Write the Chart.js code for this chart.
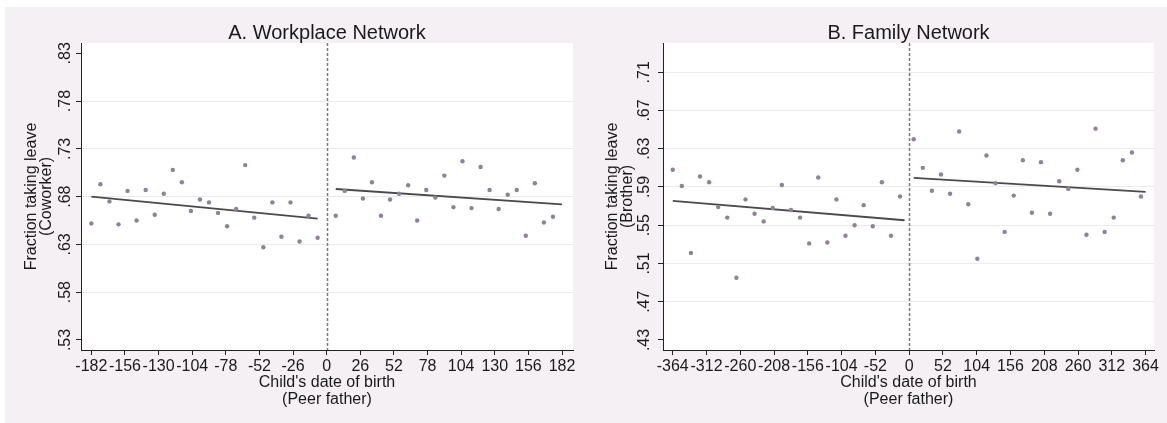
<!DOCTYPE html>
<html>
<head>
<meta charset="utf-8">
<script src="https://cdn.jsdelivr.net/npm/chart.js@4.4.0/dist/chart.umd.min.js"></script>
<style>
  html, body { margin: 0; padding: 0; background: #fff; }
  #frame { position: absolute; left: 5px; top: 7px; width: 1162px; height: 416px; background: #f4f0f4; overflow: hidden; }
  canvas { position: absolute; top: 0; }
  #chartA { left: 0; }
  #chartB { left: 585px; }
</style>
</head>
<body>
<div id="frame">
  <canvas id="chartA" width="585" height="416"></canvas>
  <canvas id="chartB" width="577" height="416"></canvas>
</div>
<script>
// Workplace network: binned means by day of birth relative to the cutoff
const xA_before = [-182, -175, -168, -161, -154, -147, -140, -133, -126, -119, -112, -105, -98, -91, -84, -77, -70, -63, -56, -49, -42, -35, -28, -21, -14, -7]
const yA_before = [0.652, 0.693, 0.675, 0.651, 0.686, 0.655, 0.687, 0.661, 0.683, 0.708, 0.695, 0.665, 0.677, 0.674, 0.663, 0.649, 0.667, 0.713, 0.658, 0.627, 0.674, 0.638, 0.674, 0.633, 0.660, 0.637]
const xA_after = [7, 14, 21, 28, 35, 42, 49, 56, 63, 70, 77, 84, 91, 98, 105, 112, 119, 126, 133, 140, 147, 154, 161, 168, 175]
const yA_after = [0.660, 0.686, 0.721, 0.678, 0.695, 0.660, 0.677, 0.683, 0.692, 0.655, 0.687, 0.679, 0.702, 0.669, 0.717, 0.668, 0.711, 0.687, 0.667, 0.682, 0.687, 0.639, 0.694, 0.653, 0.659]
const fitA_x = [[-182, -7], [7, 182]]
const fitA_y = [[0.680, 0.657], [0.688, 0.672]]

// Family network
const xB_before = [-364, -350, -336, -322, -308, -294, -280, -266, -252, -238, -224, -210, -196, -182, -168, -154, -140, -126, -112, -98, -84, -70, -56, -42, -28, -14]
const yB_before = [0.608, 0.591, 0.521, 0.601, 0.595, 0.569, 0.558, 0.495, 0.577, 0.562, 0.554, 0.568, 0.592, 0.566, 0.558, 0.531, 0.600, 0.532, 0.577, 0.539, 0.550, 0.571, 0.549, 0.595, 0.539, 0.580]
const xB_after = [7, 21, 35, 49, 63, 77, 91, 105, 119, 133, 147, 161, 175, 189, 203, 217, 231, 245, 259, 273, 287, 301, 315, 329, 343, 357]
const yB_after = [0.640, 0.610, 0.586, 0.603, 0.583, 0.648, 0.572, 0.515, 0.623, 0.594, 0.543, 0.581, 0.618, 0.563, 0.616, 0.562, 0.596, 0.588, 0.608, 0.540, 0.651, 0.543, 0.558, 0.618, 0.626, 0.580]
const fitB_x = [[-364, -7], [7, 364]]
const fitB_y = [[0.5755, 0.5552], [0.5996, 0.5849]]

// Axis ticks
const xTicksA = [-182, -156, -130, -104, -78, -52, -26, 0, 26, 52, 78, 104, 130, 156, 182]
const yTicksA = [0.53, 0.58, 0.63, 0.68, 0.73, 0.78, 0.83]
const xTicksB = [-364, -312, -260, -208, -156, -104, -52, 0, 52, 104, 156, 208, 260, 312, 364]
const yTicksB = [0.43, 0.47, 0.51, 0.55, 0.59, 0.63, 0.67, 0.71]

const FONT = '"Liberation Sans", Arial, Helvetica, sans-serif'
const TEXT = '#1a1a1a'
const DOT = '#917f9b'
const FIT = '#4a4a4a'

function zip (xs, ys) {
  return xs.map((x, i) => ({ x: x, y: ys[i] }))
}

function fmtY (v) {
  return v.toFixed(2).replace(/^0/, '')
}

// Draws plot background, zero line and all the text around the axes
const panelDecor = {
  id: 'panelDecor',
  beforeDraw (chart, args, opts) {
    const { ctx, chartArea: a } = chart
    ctx.save()
    ctx.fillStyle = '#fff'
    ctx.fillRect(a.left, a.top, a.right - a.left, a.bottom - a.top)
    ctx.restore()
  },
  beforeDatasetsDraw (chart, args, opts) {
    const { ctx, chartArea: a } = chart
    const x0 = Math.round(chart.scales.x.getPixelForValue(0)) + 0.5
    ctx.save()
    ctx.strokeStyle = '#7a7a7a'
    ctx.lineWidth = 1.5
    ctx.setLineDash([3, 2])
    ctx.beginPath()
    ctx.moveTo(x0, a.top)
    ctx.lineTo(x0, a.bottom)
    ctx.stroke()
    ctx.restore()
  },
  afterDraw (chart, args, opts) {
    const { ctx, chartArea: a } = chart
    const yScale = chart.scales.y
    const midX = (a.left + a.right) / 2
    const midY = (a.top + a.bottom) / 2
    ctx.save()
    ctx.fillStyle = TEXT

    // panel title
    ctx.font = '20px ' + FONT
    ctx.textAlign = 'center'
    ctx.textBaseline = 'alphabetic'
    ctx.fillText(opts.title, midX, 31.5)

    // x axis title
    ctx.font = '16px ' + FONT
    ctx.fillText(opts.xTitle[0], midX, 380)
    ctx.fillText(opts.xTitle[1], midX, 397)

    // rotated y tick labels
    yScale.ticks.forEach(t => {
      const py = yScale.getPixelForValue(t.value)
      ctx.save()
      ctx.translate(opts.yLabelX, py)
      ctx.rotate(-Math.PI / 2)
      ctx.textAlign = 'center'
      ctx.textBaseline = 'alphabetic'
      ctx.fillText(fmtY(t.value), 0, 0)
      ctx.restore()
    })

    // rotated y axis title
    opts.yTitle.forEach((line, i) => {
      ctx.save()
      ctx.translate(opts.yTitleX[i], midY)
      ctx.rotate(-Math.PI / 2)
      ctx.textAlign = 'center'
      ctx.textBaseline = 'middle'
      ctx.fillText(line, 0, 0)
      ctx.restore()
    })
    ctx.restore()
  }
}

function createChart (canvasId, p) {
  const datasets = [
    {
      type: 'scatter',
      data: zip(p.xBefore, p.yBefore),
      backgroundColor: DOT,
      borderWidth: 0,
      pointRadius: 2.2
    },
    {
      type: 'scatter',
      data: zip(p.xAfter, p.yAfter),
      backgroundColor: DOT,
      borderWidth: 0,
      pointRadius: 2.2
    }
  ]
  p.fitX.forEach((xs, i) => {
    datasets.push({
      type: 'line',
      data: zip(xs, p.fitY[i]),
      borderColor: FIT,
      borderWidth: 1.8,
      pointRadius: 0,
      fill: false
    })
  })

  const ctx = document.getElementById(canvasId).getContext('2d')
  return new Chart(ctx, {
    type: 'scatter',
    data: { datasets: datasets },
    options: {
      responsive: false,
      animation: false,
      devicePixelRatio: 1,
      layout: { padding: { left: 0, top: 36, right: p.padRight, bottom: 0 } },
      scales: {
        x: {
          type: 'linear',
          min: p.xMin,
          max: p.xMax,
          afterBuildTicks: scale => { scale.ticks = p.xTicks.map(v => ({ value: v })) },
          afterFit: scale => { scale.height = 73 },
          ticks: {
            autoSkip: false,
            maxRotation: 0,
            minRotation: 0,
            padding: 2,
            color: TEXT,
            font: { family: FONT, size: 16 },
            callback: v => String(v)
          },
          grid: { drawOnChartArea: false, drawTicks: true, tickLength: 5, color: '#222', lineWidth: 1 },
          border: { display: true, color: '#222', width: 1 }
        },
        y: {
          type: 'linear',
          min: p.yMin,
          max: p.yMax,
          afterBuildTicks: scale => { scale.ticks = p.yTicks.map(v => ({ value: v })) },
          afterFit: scale => { scale.width = p.areaLeft },
          ticks: { display: false },
          grid: {
            drawTicks: true,
            tickLength: 5,
            lineWidth: 1,
            color: c => (c.tick && p.noGrid.includes(c.tick.value)) ? 'rgba(0,0,0,0)' : '#ebebeb',
            tickColor: '#222'
          },
          border: { display: true, color: '#222', width: 1 }
        }
      },
      plugins: {
        legend: { display: false },
        tooltip: { enabled: false },
        panelDecor: {
          title: p.title,
          xTitle: ["Child's date of birth", '(Peer father)'],
          yTitle: ['Fraction taking leave', p.yTitle2],
          yLabelX: p.yLabelX,
          yTitleX: p.yTitleX
        }
      }
    },
    plugins: [panelDecor]
  })
}

createChart('chartA', {
  title: 'A. Workplace Network',
  yTitle2: '(Coworker)',
  xBefore: xA_before, yBefore: yA_before,
  xAfter: xA_after, yAfter: yA_after,
  fitX: fitA_x, fitY: fitA_y,
  xTicks: xTicksA, yTicks: yTicksA,
  noGrid: [0.53, 0.83],
  xMin: -190, xMax: 190.5, yMin: 0.5195, yMax: 0.8408,
  areaLeft: 76, padRight: 17,
  yLabelX: 64.7, yTitleX: [27, 42]
})

createChart('chartB', {
  title: 'B. Family Network',
  yTitle2: '(Brother)',
  xBefore: xB_before, yBefore: yB_before,
  xAfter: xB_after, yAfter: yB_after,
  fitX: fitB_x, fitY: fitB_y,
  xTicks: xTicksB, yTicks: yTicksB,
  noGrid: [0.43],
  xMin: -379, xMax: 377, yMin: 0.4195, yMax: 0.7406,
  areaLeft: 73, padRight: 13,
  yLabelX: 59.2, yTitleX: [23, 38]
})
</script>
</body>
</html>
